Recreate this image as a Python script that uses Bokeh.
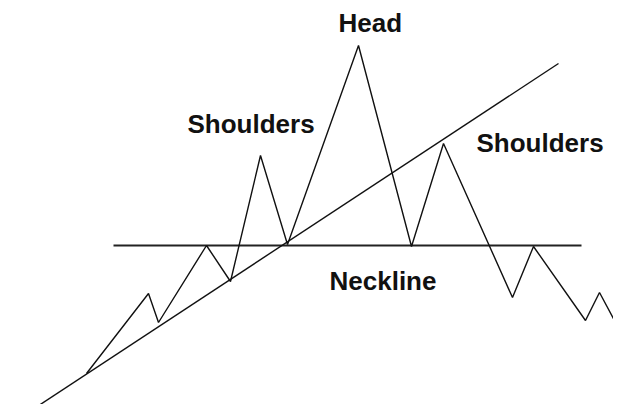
from bokeh.plotting import figure
from bokeh.models import Range1d, ColumnDataSource
from bokeh.core.properties import value
from bokeh.embed import file_html
from bokeh.resources import INLINE

# Price path (x, level) - level measured upward
price_x = [86, 148, 158, 206, 230, 260, 287, 358, 411, 443, 512, 533, 585, 599, 629]
price_y = [47, 127, 98, 175, 139, 265, 176, 375, 174, 277, 123, 174, 100, 128, 72]

# Rising trend line
trend_x = [17, 558]
trend_y = [1, 357]

# Neckline
neck_x = [113, 581]
neck_y = [175, 175]

# Labels
label_text = ["Head", "Shoulders", "Shoulders", "Neckline"]
label_x = [338, 187, 476, 329]
label_y = [398, 297, 278, 140]

p = figure(width=613, height=404, output_backend="svg", toolbar_location=None,
           x_range=Range1d(0, 613), y_range=Range1d(16, 420),
           min_border=0, min_border_left=0, min_border_right=0,
           min_border_top=0, min_border_bottom=0)
p.axis.visible = False
p.grid.visible = False
p.outline_line_color = None
p.background_fill_color = "white"
p.border_fill_color = "white"

p.line(neck_x, neck_y, line_color="#222222", line_width=2)
p.line(trend_x, trend_y, line_color="#111111", line_width=1.4)
p.line(price_x, price_y, line_color="#111111", line_width=1.4)

src = ColumnDataSource(dict(x=label_x, y=label_y, t=label_text))
p.text(x="x", y="y", text="t", source=src, text_font=value("Liberation Sans"),
       text_font_style="bold", text_font_size="26px", text_color="#111111",
       text_baseline="alphabetic", text_align="left")

open("out.html", "w").write(file_html(p, INLINE))
